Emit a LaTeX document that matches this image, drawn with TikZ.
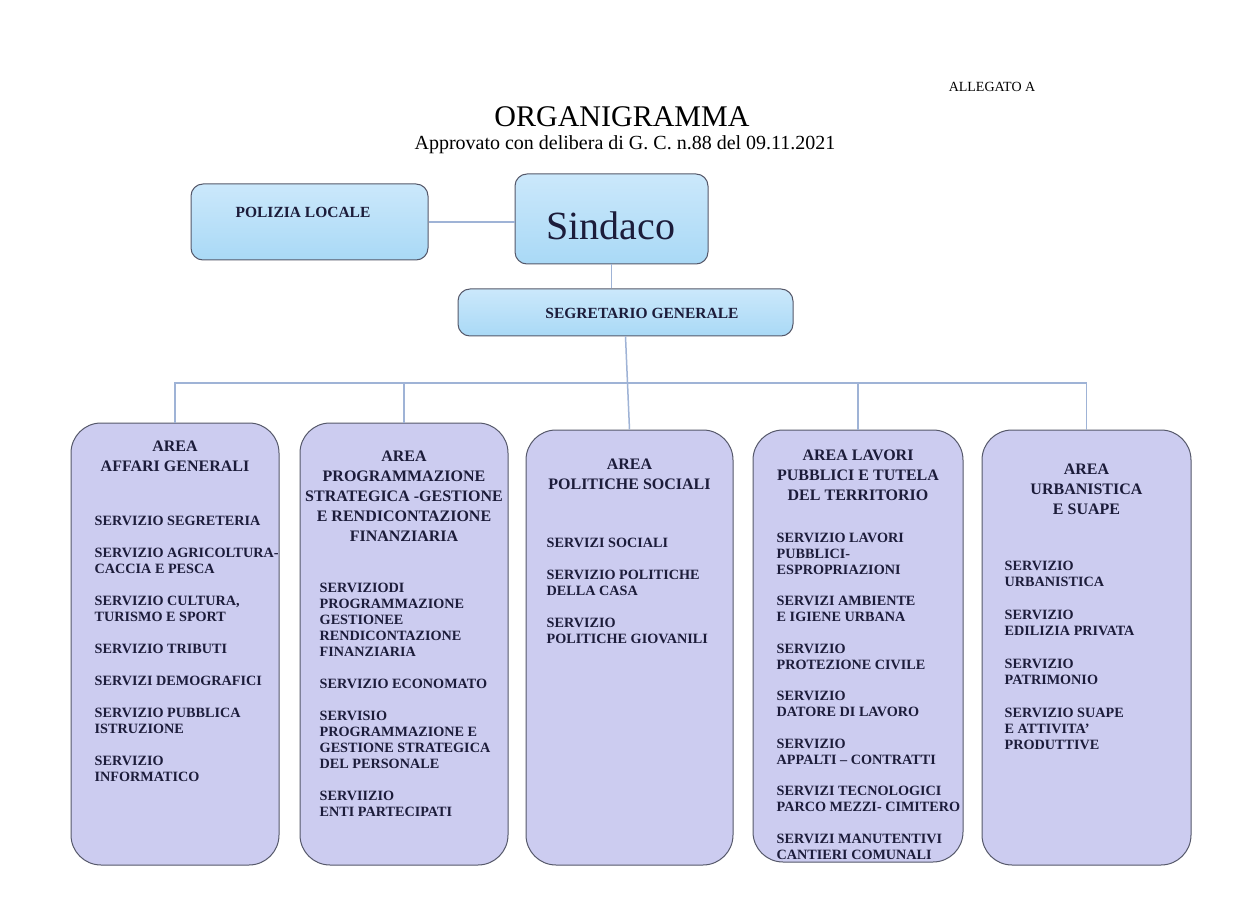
\documentclass[tikz,border=0pt]{standalone}
\usepackage{fontspec}
\setmainfont{Liberation Serif}
\usepackage{xcolor}
\usetikzlibrary{positioning,calc}

\definecolor{boxblue}{HTML}{A9D9F6}
\definecolor{boxbluelight}{HTML}{CBE8FB}
\definecolor{areafill}{HTML}{CCCCF0}
\definecolor{edgegray}{HTML}{55586A}
\definecolor{linkblue}{HTML}{9FB3D6}
\definecolor{inknavy}{HTML}{1C1C3A}

\tikzset{
  topbox/.style={draw=edgegray, line width=1pt, rounded corners=12pt,
    top color=boxbluelight, bottom color=boxblue, inner sep=0pt},
  areabox/.style={draw=edgegray, line width=1pt, fill=areafill,
    rounded corners=30pt, inner sep=0pt},
  toptext/.style={inner sep=0pt, text=inknavy, font=\bfseries\fontsize{15.5}{17}\selectfont},
  areatitle/.style={anchor=north, align=center, inner sep=0pt, text=inknavy,
    font=\bfseries\fontsize{16}{20}\selectfont},
  servlist/.style={anchor=north west, align=left, inner sep=0pt, text=inknavy,
    font=\bfseries\fontsize{14.2}{16}\selectfont},
  link/.style={draw=linkblue, line width=1.5pt}
}

\begin{document}
\begin{tikzpicture}[x=1pt,y=-1pt]
  \fill[white] (0,0) rectangle (1240,901);
  \useasboundingbox (0,0) rectangle (1240,901);

  % heading
  \node[font=\fontsize{14}{16}\selectfont] (allegato) at (992,87) {ALLEGATO A};
  \node[font=\fontsize{30}{34}\selectfont] (titolo) at (622,117) {ORGANIGRAMMA};
  \node[font=\fontsize{20}{22}\selectfont] (delibera) at (625,145)
    {Approvato con delibera di G. C. n.88 del 09.11.2021};

  % vertice
  \node[topbox, minimum width=237pt, minimum height=76pt] (pol) at (309.5,222) {};
  \node[toptext] (poltext) at (303,212) {POLIZIA LOCALE};
  \node[topbox, minimum width=193pt, minimum height=90pt] (sind) at (611.5,219) {};
  \node[font=\fontsize{40}{44}\selectfont, text=inknavy] (sindtext) at (611,226) {Sindaco};
  \node[topbox, minimum width=335pt, minimum height=47pt] (seg) at (625.5,312.5) {};
  \node[toptext] (segtext) at (642,313) {SEGRETARIO GENERALE};

  % aree
  \node[areabox, minimum width=208pt, minimum height=442pt] (a1) at (175,644) {};
  \node[areabox, minimum width=208pt, minimum height=442pt] (a2) at (404,644) {};
  \node[areabox, minimum width=207pt, minimum height=435pt] (a3) at (629.5,647.5) {};
  \node[areabox, minimum width=210pt, minimum height=432pt] (a4) at (858,646) {};
  \node[areabox, minimum width=209pt, minimum height=435pt] (a5) at (1086.5,647.5) {};

  % collegamenti
  \coordinate (bus) at (0,383);
  \draw[link] (pol.east) -- (pol.east -| sind.west);
  \draw[link] (sind.south) -- (sind.south |- seg.north);
  \draw[link] (seg.south) -- (a3.north);
  \draw[link] (a1.north) -- (a1.north |- bus) -- (a5.north |- bus) -- (a5.north);
  \foreach \a in {a2,a4}
    \draw[link] (\a.north) -- (\a.north |- bus);

  % area affari generali
  \node[areatitle, below=18.7pt of a1.north] (t1) {AREA\\AFFARI GENERALI};
  \node[servlist, below right=93.2pt and 24pt of a1.north west] (s1)
    {SERVIZIO SEGRETERIA\\[16pt]
     SERVIZIO AGRICOLTURA-\\CACCIA E PESCA\\[16pt]
     SERVIZIO CULTURA,\\TURISMO E SPORT\\[16pt]
     SERVIZIO TRIBUTI\\[16pt]
     SERVIZI DEMOGRAFICI\\[16pt]
     SERVIZIO PUBBLICA\\ISTRUZIONE\\[16pt]
     SERVIZIO\\INFORMATICO};

  % area programmazione
  \node[areatitle, below=28.7pt of a2.north] (t2)
    {AREA\\PROGRAMMAZIONE\\STRATEGICA -GESTIONE\\E RENDICONTAZIONE\\FINANZIARIA};
  \node[servlist, below right=160.2pt and 20pt of a2.north west] (s2)
    {SERVIZIODI\\PROGRAMMAZIONE\\GESTIONEE\\RENDICONTAZIONE\\FINANZIARIA\\[16pt]
     SERVIZIO ECONOMATO\\[16pt]
     SERVISIO\\PROGRAMMAZIONE E\\GESTIONE STRATEGICA\\DEL PERSONALE\\[16pt]
     SERVIIZIO\\ENTI PARTECIPATI};

  % area politiche sociali
  \node[areatitle, below=29.7pt of a3.north] (t3) {AREA\\POLITICHE SOCIALI};
  \node[servlist, below right=108.2pt and 21pt of a3.north west] (s3)
    {SERVIZI SOCIALI\\[16pt]
     SERVIZIO POLITICHE\\DELLA CASA\\[16pt]
     SERVIZIO\\POLITICHE GIOVANILI};

  % area lavori pubblici
  \node[areatitle, below=20.7pt of a4.north] (t4)
    {AREA LAVORI\\PUBBLICI E TUTELA\\DEL TERRITORIO};
  \node[servlist, below right=103.2pt and 24pt of a4.north west] (s4)
    {SERVIZIO LAVORI\\PUBBLICI-\\ESPROPRIAZIONI\\[15.5pt]
     SERVIZI AMBIENTE\\E IGIENE URBANA\\[15.5pt]
     SERVIZIO\\PROTEZIONE CIVILE\\[15.5pt]
     SERVIZIO\\DATORE DI LAVORO\\[15.5pt]
     SERVIZIO\\APPALTI – CONTRATTI\\[15.5pt]
     SERVIZI TECNOLOGICI\\PARCO MEZZI- CIMITERO\\[15.5pt]
     SERVIZI MANUTENTIVI\\CANTIERI COMUNALI};

  % area urbanistica
  \node[areatitle, below=34.7pt of a5.north] (t5) {AREA\\URBANISTICA\\E SUAPE};
  \node[servlist, below right=131.2pt and 23pt of a5.north west] (s5)
    {SERVIZIO\\URBANISTICA\\[17pt]
     SERVIZIO\\EDILIZIA PRIVATA\\[17pt]
     SERVIZIO\\PATRIMONIO\\[17pt]
     SERVIZIO SUAPE\\E ATTIVITA'\\PRODUTTIVE};
\end{tikzpicture}
\end{document}
